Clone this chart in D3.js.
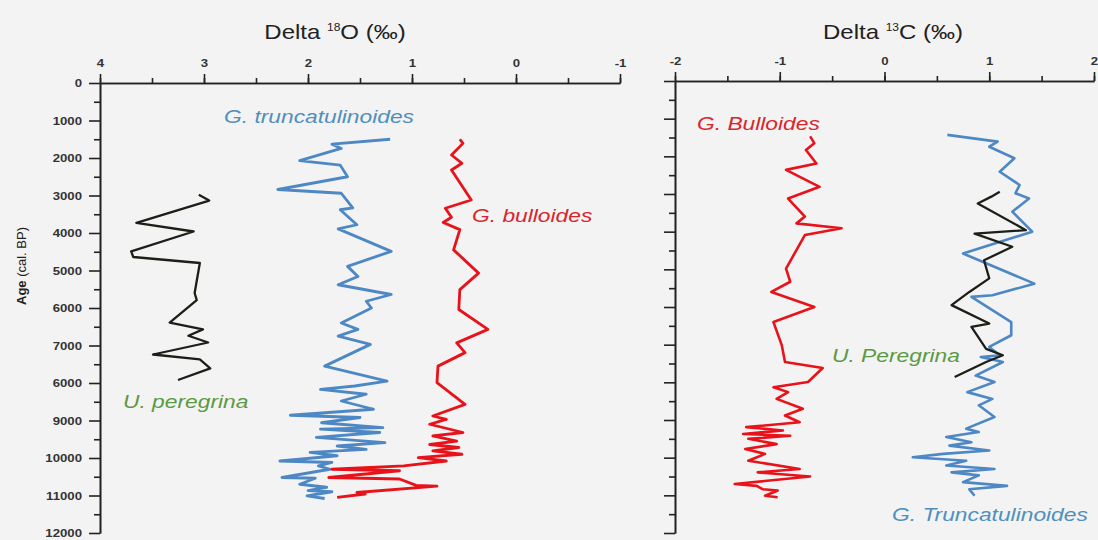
<!DOCTYPE html>
<html>
<head>
<meta charset="utf-8">
<script src="https://cdn.jsdelivr.net/npm/d3@7"></script>
<style>
  body { margin: 0; background: #f3f3f3; }
  svg { display: block; font-family: "Liberation Sans", Arial, sans-serif; }
  .tick text { font-weight: bold; font-size: 11px; fill: #333; }
  .domain, .tick line { stroke: #222; stroke-width: 1.6; }
</style>
</head>
<body>
<div id="chart"></div>
<script>
// age axis (cal. BP) - the original figure prints "6000" where 8000 should be
const ageTicks = [0, 1000, 2000, 3000, 4000, 5000, 6000, 7000, 8000, 9000, 10000, 11000, 12000];
const ageTickLabels = ["0", "1000", "2000", "3000", "4000", "5000", "6000", "7000", "6000", "9000", "10000", "11000", "12000"];
const o18Ticks = [4, 3, 2, 1, 0, -1];
const c13Ticks = [-2, -1, 0, 1, 2];

// Delta 18O series: [age, permil]
const o18Peregrina = [
  [2980, 3.05], [3135, 2.95], [3730, 3.65], [3960, 3.1], [4490, 3.7], [4640, 3.68],
  [4800, 3.04], [5600, 3.09], [5790, 3.07], [6390, 3.33], [6570, 3.01], [6740, 3.15],
  [6920, 2.96], [7240, 3.49], [7370, 3.04], [7610, 2.94], [7920, 3.25]
];
const o18Truncatulinoides = [
  [1500, 1.21], [1630, 1.77], [1745, 1.68], [2070, 2.08], [2190, 1.69], [2500, 1.62],
  [2840, 2.29], [2940, 1.68], [3330, 1.57], [3380, 1.69], [3780, 1.53], [3890, 1.71],
  [4490, 1.2], [4890, 1.62], [5160, 1.52], [5380, 1.71], [5640, 1.2], [5820, 1.44],
  [6000, 1.39], [6400, 1.68], [6570, 1.52], [6750, 1.71], [6970, 1.4], [7550, 1.84],
  [7950, 1.24], [8080, 1.55], [8170, 1.88], [8300, 1.44], [8480, 1.68], [8700, 1.37],
  [8860, 2.17], [8920, 1.5], [9060, 1.87], [9190, 1.28], [9230, 1.88], [9320, 1.31],
  [9450, 1.92], [9590, 1.26], [9680, 1.72], [9770, 1.44], [9850, 1.98], [9940, 1.72],
  [10080, 2.27], [10120, 1.77], [10210, 1.9], [10300, 1.79], [10520, 2.25], [10540, 1.93],
  [10700, 2.08], [10780, 1.82], [10870, 2.0], [10900, 1.77], [11010, 2.01], [11080, 1.84]
];
const o18Bulloides = [
  [1500, 0.54], [1610, 0.51], [1920, 0.62], [2140, 0.52], [2320, 0.62], [3120, 0.43],
  [3340, 0.68], [3580, 0.62], [3720, 0.7], [3910, 0.54], [4450, 0.6], [5070, 0.36],
  [5510, 0.54], [6040, 0.55], [6570, 0.27], [6930, 0.57], [7190, 0.49], [7550, 0.75],
  [7990, 0.76], [8570, 0.49], [8880, 0.8], [8970, 0.67], [9100, 0.83], [9320, 0.51],
  [9410, 0.8], [9550, 0.57], [9640, 0.83], [9720, 0.55], [9810, 0.8], [9900, 0.52],
  [9990, 0.94], [10080, 0.67], [10210, 1.08], [10300, 1.77], [10340, 1.12], [10520, 1.8],
  [10560, 1.12], [10730, 0.96], [10750, 0.76], [10920, 1.53], [10960, 1.45], [11050, 1.72]
];

// Delta 13C series: [age, permil]
const c13Bulloides = [
  [1470, -0.71], [1650, -0.67], [1830, -0.75], [2190, -0.65], [2360, -0.94], [2810, -0.62],
  [3120, -0.92], [3600, -0.76], [3780, -0.84], [3910, -0.41], [4090, -0.76], [4980, -0.94],
  [5330, -0.9], [5600, -1.08], [6000, -0.67], [6400, -1.06], [7020, -0.98], [7460, -0.95],
  [7620, -0.59], [7990, -0.73], [8130, -1.06], [8260, -0.92], [8440, -1.03], [8700, -0.78],
  [8880, -0.95], [9060, -0.81], [9190, -1.32], [9280, -0.97], [9370, -1.35], [9420, -0.9],
  [9500, -1.3], [9640, -1.03], [9770, -1.33], [9900, -1.14], [10080, -1.3], [10300, -0.81],
  [10390, -1.21], [10500, -0.71], [10700, -1.43], [10750, -1.22], [10840, -1.16], [10870, -1.02],
  [11010, -1.14], [11050, -1.02]
];
const c13Truncatulinoides = [
  [1430, 0.6], [1610, 1.08], [1745, 1.0], [2050, 1.24], [2410, 1.1], [2760, 1.29],
  [2980, 1.25], [3120, 1.38], [3470, 1.22], [4000, 1.41], [4580, 0.75], [5380, 1.43],
  [5690, 1.03], [5730, 0.83], [6400, 1.21], [6750, 1.21], [7060, 1.0], [7280, 1.1],
  [7330, 0.92], [7460, 1.13], [7820, 0.87], [7990, 1.05], [8260, 0.79], [8440, 1.03],
  [8610, 0.9], [8920, 1.05], [9230, 0.78], [9320, 0.9], [9450, 0.59], [9590, 0.83],
  [9680, 0.62], [9810, 1.0], [9900, 0.56], [9990, 0.27], [10080, 0.78], [10210, 0.59],
  [10300, 1.05], [10390, 0.64], [10470, 0.9], [10650, 0.75], [10750, 1.17], [10840, 0.81],
  [11010, 0.86]
];
const c13Peregrina = [
  [2940, 1.1], [3070, 1.02], [3250, 0.89], [3960, 1.35], [4050, 0.86], [4400, 1.22],
  [4760, 0.95], [5240, 1.0], [5600, 0.81], [5950, 0.64], [6440, 1.0], [6530, 0.83],
  [7110, 0.97], [7280, 1.13], [7460, 0.97], [7860, 0.67]
];

const blue = "#4d88c4", red = "#e8121a", black = "#1c1f17", green = "#5c9a42";
const sx = 1.2; // the source figure is stretched sideways, text included

const W = 1098, H = 540;
const svg = d3.select("#chart").append("svg").attr("width", W).attr("height", H);

// text that is wider than the font gives
function wideText(parent, x, y, anchor) {
  return parent.append("g").attr("transform", `translate(${x},${y}) scale(${sx},1)`)
    .append("text").attr("text-anchor", anchor || "start");
}

function panel(opts) {
  const x = d3.scaleLinear().domain(opts.xDomain).range([opts.left, opts.right]);
  const y = d3.scaleLinear().domain([0, 12000]).range([opts.top, 533]);
  const g = svg.append("g");

  // minor ticks first (no labels)
  const step = opts.xDomain[1] > opts.xDomain[0] ? 0.5 : -0.5;
  const minorX = d3.range(opts.xDomain[0], opts.xDomain[1] + step / 2, step);
  g.append("g").attr("transform", `translate(0,${opts.top})`)
    .call(d3.axisTop(x).tickValues(minorX).tickSize(5).tickSizeOuter(0).tickFormat(""));
  g.append("g").attr("transform", `translate(0,${opts.top})`)
    .call(d3.axisTop(x).tickValues(opts.xTicks).tickSize(9).tickSizeOuter(0).tickPadding(7)
      .tickFormat(d => d))
    .selectAll(".tick text").attr("transform", `scale(${sx},1)`);

  g.append("g").attr("transform", `translate(${opts.left},0)`)
    .call(d3.axisLeft(y).tickValues(d3.range(500, 12000, 1000)).tickSize(6).tickSizeOuter(0).tickFormat(""));
  g.append("g").attr("transform", `translate(${opts.left},0)`)
    .call(d3.axisLeft(y).tickValues(ageTicks).tickSize(11).tickSizeOuter(0)
      .tickFormat((d, i) => opts.yLabels ? ageTickLabels[i] : ""))
    .selectAll(".tick text").attr("x", -18 / sx).attr("transform", `scale(${sx},1)`);

  const line = d3.line().x(d => x(d[1])).y(d => y(d[0]));
  opts.series.forEach(s => {
    g.append("path").datum(s.data)
      .attr("fill", "none").attr("stroke", s.color).attr("stroke-width", s.width)
      .attr("stroke-linejoin", "round").attr("d", line);
  });

  // title
  const t = wideText(g, opts.titleX, 39, "middle").attr("font-size", 20).attr("fill", "#222");
  t.append("tspan").text("Delta ");
  t.append("tspan").attr("font-size", 10).attr("dy", -8).text(opts.iso);
  t.append("tspan").attr("dy", 8).text(opts.elem + " (‰)");

  opts.labels.forEach(l => {
    wideText(g, l.x, l.y).attr("font-size", 19).attr("font-style", "italic")
      .attr("fill", l.color).text(l.text);
  });
  return g;
}

panel({
  xDomain: [4, -1], xTicks: o18Ticks, left: 100, right: 620, top: 83, yLabels: true,
  titleX: 335, iso: "18", elem: "O",
  series: [
    { data: o18Peregrina, color: black, width: 2.3 },
    { data: o18Truncatulinoides, color: blue, width: 2.8 },
    { data: o18Bulloides, color: red, width: 2.8 }
  ],
  labels: [
    { x: 224, y: 123, text: "G. truncatulinoides", color: "#4f8fbd" },
    { x: 472, y: 222, text: "G. bulloides", color: "#d8262b" },
    { x: 123, y: 408, text: "U. peregrina", color: green }
  ]
});

panel({
  xDomain: [-2, 2], xTicks: c13Ticks, left: 675, right: 1094, top: 81, yLabels: false,
  titleX: 893, iso: "13", elem: "C",
  series: [
    { data: c13Bulloides, color: red, width: 2.6 },
    { data: c13Truncatulinoides, color: blue, width: 2.6 },
    { data: c13Peregrina, color: black, width: 2.3 }
  ],
  labels: [
    { x: 697, y: 130, text: "G. Bulloides", color: "#d8262b" },
    { x: 832, y: 362, text: "U. Peregrina", color: green },
    { x: 892, y: 521, text: "G. Truncatulinoides", color: "#4f8fbd" }
  ]
});

// y axis title
const yt = svg.append("text").attr("transform", "translate(26,266) rotate(-90)")
  .attr("text-anchor", "middle").attr("font-size", 13).attr("fill", "#222");
yt.append("tspan").attr("font-weight", "bold").text("Age ");
yt.append("tspan").text("(cal. BP)");
</script>
</body>
</html>
